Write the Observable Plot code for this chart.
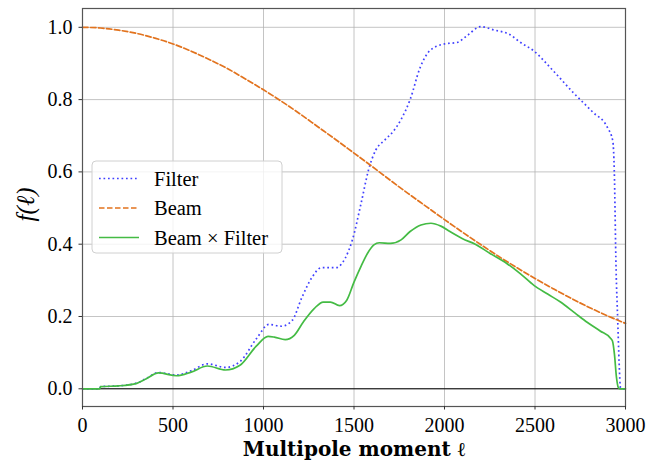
<!DOCTYPE html>
<html><head><meta charset="utf-8">
<script src="https://cdn.jsdelivr.net/npm/d3@7"></script>
<script src="https://cdn.jsdelivr.net/npm/@observablehq/plot@0.6"></script>
<style>
html,body{margin:0;padding:0;background:#fff;}
svg text{font-family:"Liberation Serif", "Times New Roman", serif;}
svg text.xlab{font-family:"DejaVu Serif", serif;font-weight:bold;}
</style>
</head><body><div id="chart"></div>
<script>
// Multipole moments and values
const beamL = [0,100,200,300,400,500,600,700,800,900,1000,1100,1200,1300,1400,1500,1600,1700,1800,1900,2000,2100,2200,2300,2400,2500,2600,2700,2800,2900,3000];
const beamV = [1.000,0.998,0.992,0.983,0.970,0.954,0.934,0.911,0.886,0.857,0.827,0.795,0.761,0.725,0.689,0.652,0.615,0.577,0.540,0.504,0.468,0.433,0.399,0.366,0.335,0.305,0.277,0.250,0.225,0.202,0.181];

const filterL = [0,95,100,200,300,350,420,520,600,690,790,870,960,1030,1100,1160,1210,1270,1320,1400,1450,1490,1540,1580,1620,1670,1720,1760,1810,1865,1920,2000,2070,2125,2200,2270,2360,2420,2490,2600,2710,2820,2900,2930,2938,2948,2957,2965,2972,2980,3000];
const filterV = [0,0,0.006,0.008,0.016,0.028,0.045,0.038,0.050,0.069,0.059,0.075,0.138,0.178,0.173,0.190,0.250,0.310,0.335,0.335,0.360,0.410,0.515,0.605,0.660,0.688,0.714,0.745,0.800,0.888,0.936,0.954,0.958,0.977,1.002,0.993,0.980,0.958,0.936,0.880,0.820,0.765,0.723,0.685,0.604,0.330,0.190,0.070,0.004,0,0];

const prodL = [0,95,100,200,300,350,420,520,600,690,790,870,960,1025,1060,1120,1170,1220,1280,1330,1370,1420,1460,1500,1540,1575,1610,1640,1700,1760,1810,1870,1925,1980,2030,2100,2170,2250,2346,2420,2494,2570,2641,2720,2788,2860,2917,2928,2939,2950,2960,2970,3000];
const prodV = [0,0,0.006,0.008,0.015,0.027,0.044,0.036,0.046,0.063,0.052,0.065,0.118,0.145,0.143,0.136,0.148,0.185,0.222,0.240,0.240,0.230,0.245,0.295,0.340,0.375,0.398,0.404,0.402,0.412,0.435,0.453,0.458,0.450,0.435,0.415,0.400,0.375,0.346,0.318,0.286,0.262,0.240,0.210,0.184,0.160,0.140,0.132,0.095,0.032,0.004,0,0];

const seriesNames = ["Filter", "Beam", "Beam \u00d7 Filter"];
const xTicks = [0,500,1000,1500,2000,2500,3000];
const yTicks = [0.0,0.2,0.4,0.6,0.8,1.0];
const xLabel = "Multipole moment \u2113";
const yLabel = "f(\u2113)";

const toRows = (L, V) => L.map((l, i) => ({l, v: V[i]}));
const beamData = toRows(beamL, beamV);
const filterData = toRows(filterL, filterV);
const prodData = toRows(prodL, prodV);

const colors = {filter: "#4040ff", beam: "#e2731e", prod: "#44bb44"};

const chart = Plot.plot({
  width: 648, height: 462,
  marginLeft: 82, marginRight: 23, marginTop: 8, marginBottom: 56,
  style: {fontSize: "20px", background: "#fff", color: "#000", overflow: "visible"},
  x: {domain: [0, 3000]},
  y: {domain: [-0.049, 1.052]},
  marks: [
    Plot.gridX(xTicks, {stroke: "#b0b0b0", strokeOpacity: 0.75, strokeWidth: 1}),
    Plot.gridY(yTicks, {stroke: "#b0b0b0", strokeOpacity: 0.75, strokeWidth: 1}),
    Plot.ruleY([0], {stroke: "#000", strokeWidth: 1}),
    Plot.line(filterData, {x: "l", y: "v", stroke: colors.filter, strokeWidth: 1.7, strokeDasharray: "1.7,2.8", strokeLinecap: "butt", curve: "monotone-x"}),
    Plot.line(beamData, {x: "l", y: "v", stroke: colors.beam, strokeWidth: 1.7, strokeDasharray: "5.5,2.5", curve: "monotone-x"}),
    Plot.line(prodData, {x: "l", y: "v", stroke: colors.prod, strokeWidth: 1.7, curve: "monotone-x"}),
    Plot.frame({stroke: "#555", strokeWidth: 1.2}),
    Plot.axisX(xTicks, {tickSize: 3.5, tickPadding: 7.5, stroke: "#333", tickFormat: d => String(d), label: null, fontSize: 20}),
    Plot.axisY(yTicks, {tickSize: 3.5, tickPadding: 6.5, stroke: "#333", tickFormat: d => d.toFixed(1), label: null, fontSize: 20}),
    Plot.text([xLabel], {frameAnchor: "bottom", dy: 43, text: d => d, fontSize: 20, lineAnchor: "middle", textAnchor: "middle"}),
    Plot.text([yLabel], {frameAnchor: "left", rotate: -90, dx: -57, dy: -3, text: d => d, fontSize: 25, fontStyle: "italic", textAnchor: "middle", lineAnchor: "middle"})
  ]
});

const svg = d3.select(chart);
svg.selectAll("text").filter(function() { return this.textContent === xLabel; }).classed("xlab", true);

// Legend drawn inside the axes (upper-left, like matplotlib's legend box)
const lg = svg.append("g").attr("class", "legend").attr("text-anchor", "start");
lg.append("rect").attr("x", 92).attr("y", 161).attr("width", 190).attr("height", 92)
  .attr("rx", 4).attr("fill", "#fff").attr("fill-opacity", 0.8).attr("stroke", "#d0d0d0").attr("stroke-width", 1);
const styles = [
  {stroke: colors.filter, dash: "1.7,2.8"},
  {stroke: colors.beam, dash: "5.5,2.5"},
  {stroke: colors.prod, dash: null}
];
seriesNames.forEach((name, i) => {
  const cy = 178.5 + i * 29.5;
  const ln = lg.append("line").attr("x1", 99).attr("x2", 139).attr("y1", cy).attr("y2", cy)
    .attr("stroke", styles[i].stroke).attr("stroke-width", 1.7);
  if (styles[i].dash) ln.attr("stroke-dasharray", styles[i].dash);
  lg.append("text").attr("x", 154).attr("y", cy + 7)
    .style("font-size", "20.5px").style("text-anchor", "start")
    .attr("fill", "#000").text(name);
});

document.getElementById("chart").append(chart);
</script>
</body></html>
